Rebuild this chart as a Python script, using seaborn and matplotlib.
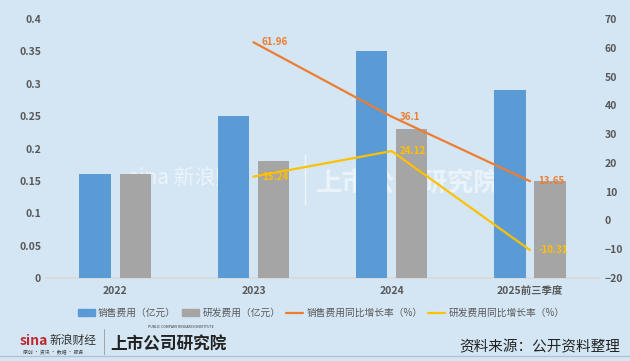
import numpy as np
import pandas as pd
import matplotlib
matplotlib.use("Agg")
import matplotlib.pyplot as plt
from matplotlib.patches import Patch
from matplotlib.lines import Line2D
import seaborn as sns

# ============================================================
# Data
# ============================================================

periods = ["2022", "2023", "2024", "2025前三季度"]
sales_cost = [0.16, 0.25, 0.35, 0.29]
rd_cost = [0.16, 0.18, 0.23, 0.15]
growth_periods = ["2023", "2024", "2025前三季度"]
sales_growth = [61.96, 36.1, 13.65]
rd_growth = [15.24, 24.12, -10.31]

left_ticks = [0, 0.05, 0.1, 0.15, 0.2, 0.25, 0.3, 0.35, 0.4]
left_tick_labels = ["0", "0.05", "0.1", "0.15", "0.2", "0.25", "0.3", "0.35", "0.4"]
right_ticks = [-20, -10, 0, 10, 20, 30, 40, 50, 60, 70]

series_names = ["销售费用（亿元）", "研发费用（亿元）", "销售费用同比增长率（%）", "研发费用同比增长率（%）"]

# ============================================================
# Style
# ============================================================

BG = "#D4E6F4"
BLUE = "#5B9BD5"
GRAY = "#A5A5A5"
ORANGE = "#ED7D31"
YELLOW = "#FFC000"
TICK = "#595959"

sns.set_theme(style="white")
plt.rcParams["font.family"] = ["Noto Sans CJK SC", "DejaVu Sans"]

fig = plt.figure(figsize=(6.3, 3.61), dpi=100)
fig.patch.set_facecolor(BG)
ax = fig.add_axes([0.073, 0.230, 0.878, 0.717])
ax.set_facecolor(BG)

bars = pd.DataFrame({
    "period": periods * 2,
    "value": sales_cost + rd_cost,
    "series": [series_names[0]] * 4 + [series_names[1]] * 4,
})
sns.barplot(data=bars, x="period", y="value", hue="series", order=periods,
            palette=[BLUE, GRAY], width=0.58, gap=0.22, ax=ax, legend=False,
            saturation=1, linewidth=0, zorder=3)

ax.set_ylim(0, 0.4)
ax.set_xlim(-0.5, 3.5)
ax.set_yticks(left_ticks)
ax.set_yticklabels(left_tick_labels)
ax.set_xlabel("")
ax.set_ylabel("")
for s in ["top", "right", "left"]:
    ax.spines[s].set_visible(False)
ax.spines["bottom"].set_color("#D9D9D9")
ax.tick_params(axis="both", length=0, labelsize=7.5, colors=TICK)
ax.tick_params(axis="x", pad=6)
for lab in ax.get_xticklabels() + ax.get_yticklabels():
    lab.set_fontweight("bold")

# watermark behind bars
ax.text(0.1, 0.155, "sina 新浪财", fontsize=15, color="white", alpha=0.55,
        style="italic", ha="left", va="center", zorder=1)
ax.text(1.45, 0.145, "上市公司研究院", fontsize=19, color="white", alpha=0.55,
        fontweight="bold", style="italic", ha="left", va="center", zorder=1)
ax.plot([1.37, 1.37], [0.115, 0.19], color="white", alpha=0.6, lw=1, zorder=1)

# growth lines
ax2 = ax.twinx()
x_pos = [periods.index(p) for p in growth_periods]
lines = pd.DataFrame({"x": x_pos * 2, "rate": sales_growth + rd_growth,
                      "series": [series_names[2]] * 3 + [series_names[3]] * 3})
sns.lineplot(data=lines, x="x", y="rate", hue="series", palette=[ORANGE, YELLOW],
             ax=ax2, legend=False, linewidth=1.6)
ax2.set_ylim(-20, 70)
ax2.set_yticks(right_ticks)
ax2.set_xlim(-0.5, 3.5)
ax2.set_xlabel("")
ax2.set_ylabel("")
for s in ["top", "right", "left", "bottom"]:
    ax2.spines[s].set_visible(False)
ax2.tick_params(axis="y", length=0, labelsize=7.5, colors=TICK, pad=4)
for lab in ax2.get_yticklabels():
    lab.set_fontweight("bold")

for xv, yv in zip(x_pos, sales_growth):
    ax2.annotate(f"{yv:g}", (xv, yv), xytext=(6, 0), textcoords="offset points",
                 color=ORANGE, fontsize=7, fontweight="bold", va="center")
for xv, yv in zip(x_pos, rd_growth):
    ax2.annotate(f"{yv:g}", (xv, yv), xytext=(6, 0), textcoords="offset points",
                 color=YELLOW, fontsize=7, fontweight="bold", va="center")

handles = [Patch(color=BLUE), Patch(color=GRAY),
           Line2D([], [], color=ORANGE, lw=1.6), Line2D([], [], color=YELLOW, lw=1.6)]
fig.legend(handles, series_names, loc="center", bbox_to_anchor=(0.51, 0.133), ncol=4,
           frameon=False, fontsize=7, labelcolor=TICK, handlelength=1.75,
           handleheight=0.7, columnspacing=0.6, handletextpad=0.35)

# footer
fig.text(0.032, 0.056, "sina", fontsize=10, color="#C0282E", fontweight="bold",
         style="italic", va="center")
fig.text(0.079, 0.056, "新浪财经", fontsize=8.5, color="#333333", va="center")
fig.text(0.037, 0.024, "原创 · 资讯 · 数据 · 服务", fontsize=3.5, color="#444444", va="center")
fig.add_artist(Line2D([0.165, 0.165], [0.02, 0.09], color="#999999", lw=0.6))
fig.text(0.175, 0.045, "上市公司研究院", fontsize=12, color="#222222", fontweight="bold",
         style="italic", va="center")
fig.text(0.235, 0.094, "PUBLIC COMPANY RESEARCH INSTITUTE", fontsize=2.5, color="#333333",
         va="center")
fig.text(0.985, 0.039, "资料来源：公开资料整理", fontsize=10.5, color="#222222",
         ha="right", va="center")
fig.add_artist(Line2D([0, 1], [0.013, 0.013], color="#AFC3D6", lw=1))

fig.savefig("out.png", dpi=100, facecolor=BG)
